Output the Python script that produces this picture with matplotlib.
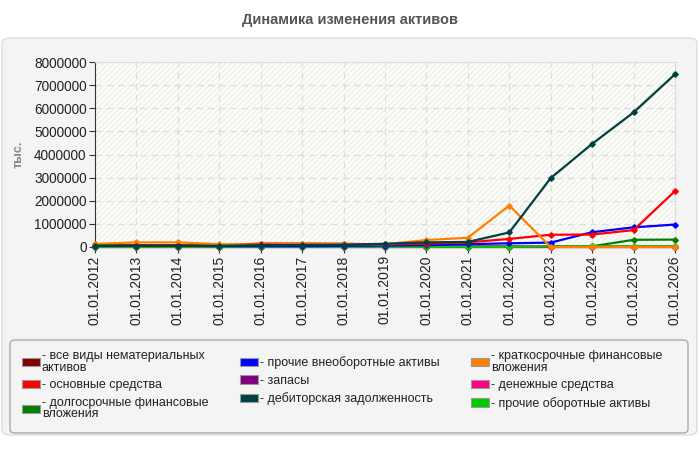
import matplotlib
matplotlib.use("Agg")
import matplotlib.pyplot as plt
from matplotlib.patches import FancyBboxPatch, Rectangle, Patch

plt.rcParams['font.family'] = ['Liberation Sans', 'DejaVu Sans']

dates = ["01.01.2012", "01.01.2013", "01.01.2014", "01.01.2015", "01.01.2016",
         "01.01.2017", "01.01.2018", "01.01.2019", "01.01.2020", "01.01.2021",
         "01.01.2022", "01.01.2023", "01.01.2024", "01.01.2025", "01.01.2026"]

nematerial = [5000, 5000, 5000, 5000, 5000, 5000, 5000, 5000, 5000, 5000, 5000, 5000, 5000, 5000, 5000]
osnovnye = [110000, 80000, 80000, 70000, 150000, 150000, 140000, 110000, 150000, 200000, 350000, 530000, 540000, 730000, 2420000]
dolgosroch_fin = [20000, 20000, 20000, 20000, 20000, 20000, 20000, 20000, 20000, 20000, 20000, 20000, 30000, 310000, 320000]
prochie_vneob = [50000, 50000, 50000, 40000, 40000, 40000, 50000, 60000, 80000, 120000, 160000, 190000, 640000, 850000, 970000]
zapasy = [8000, 8000, 8000, 8000, 8000, 8000, 8000, 8000, 8000, 8000, 8000, 5000, 5000, 5000, 5000]
debitor = [60000, 60000, 60000, 50000, 80000, 90000, 100000, 140000, 200000, 220000, 630000, 2980000, 4460000, 5820000, 7470000]
kratkosroch_fin = [130000, 200000, 200000, 120000, 100000, 140000, 130000, 120000, 300000, 400000, 1790000, 0, 0, 0, 0]
denezhnye = [15000, 15000, 15000, 15000, 15000, 15000, 15000, 15000, 15000, 15000, 15000, 20000, 20000, 20000, 20000]
prochie_oborot = [10000, 10000, 10000, 10000, 10000, 10000, 10000, 10000, 10000, 10000, 10000, 30000, 30000, 30000, 30000]

series = [
    ("- все виды нематериальных\nактивов", nematerial, "#800000"),
    ("- основные средства", osnovnye, "#ff0000"),
    ("- долгосрочные финансовые\nвложения", dolgosroch_fin, "#008000"),
    ("- прочие внеоборотные активы", prochie_vneob, "#0000ff"),
    ("- запасы", zapasy, "#800080"),
    ("- дебиторская задолженность", debitor, "#004040"),
    ("- краткосрочные финансовые\nвложения", kratkosroch_fin, "#ff8000"),
    ("- денежные средства", denezhnye, "#ff0080"),
    ("- прочие оборотные активы", prochie_oborot, "#00cc00"),
]

fig = plt.figure(figsize=(7, 4.5), dpi=100)
fig.patch.set_facecolor("white")

panel = FancyBboxPatch((2/700, 15/450), 695/700, 397/450,
                       boxstyle="round,pad=0,rounding_size=0.012",
                       transform=fig.transFigure, facecolor="#f4f4f4",
                       edgecolor="#dddddd", lw=1, zorder=-10)
fig.patches.append(panel)

legframe = FancyBboxPatch((10/700, 17/450), 678/700, 93/450,
                          boxstyle="round,pad=0,rounding_size=0.008",
                          transform=fig.transFigure, facecolor="#f4f4f4",
                          edgecolor="#aaaaaa", lw=1, zorder=-5)
fig.patches.append(legframe)

fig.text(0.5, 1 - 20/450, "Динамика изменения активов", ha="center", va="center",
         fontsize=10.5, fontweight="bold", color="#555555")

ax = fig.add_axes([95/700, 1 - 247/450, 580/700, 185/450])
ax.set_facecolor("#fdfdf7")
ax.add_patch(Rectangle((0, 0), 1, 1, transform=ax.transAxes, facecolor="none",
                       hatch="//////", edgecolor="#eeeeee", lw=0, zorder=0))

x = list(range(len(dates)))
order = [0, 2, 4, 7, 8, 3, 1, 6, 5]
for i in order:
    label, vals, col = series[i]
    ax.plot(x, vals, color=col, lw=1.6, marker="D", ms=2.8, zorder=3, clip_on=False)

ax.set_xlim(0, len(dates) - 1)
ax.set_ylim(0, 8000000)
ax.set_yticks(range(0, 8000001, 1000000))
ax.set_yticklabels([str(v) for v in range(0, 8000001, 1000000)], fontsize=9.8, color="#222222")
ax.set_xticks(x)
ax.set_xticklabels(dates, rotation=90, fontsize=10, color="#222222")
ax.grid(True, color="#dddddd", linestyle=(0, (5, 4)), lw=0.9, zorder=1)
ax.set_axisbelow(True)
for s in ["top", "right"]:
    ax.spines[s].set_color("#dddddd")
for s in ["left", "bottom"]:
    ax.spines[s].set_color("#333333")
ax.tick_params(axis="both", length=4, color="#333333", pad=2)
ax.set_ylabel("тыс.", fontsize=9, fontweight="bold", color="#888888")
ax.yaxis.set_label_coords((25 - 95) / 580, 0.5)

handles = [Patch(facecolor=c, edgecolor="#999999", lw=0.8) for _, _, c in series]
labels = [l for l, _, _ in series]
leg = fig.legend(handles, labels, ncol=3, loc="upper left",
                 bbox_to_anchor=(22/700, 1 - 350/450),
                 borderaxespad=0, borderpad=0, fontsize=9,
                 handlelength=1.45, handleheight=0.65, handletextpad=0.15,
                 labelspacing=0.45, columnspacing=2.5, frameon=False)
for t in leg.get_texts():
    t.set_color("#222222")
    t.set_linespacing(0.95)

fig.savefig("out.png", dpi=100)
